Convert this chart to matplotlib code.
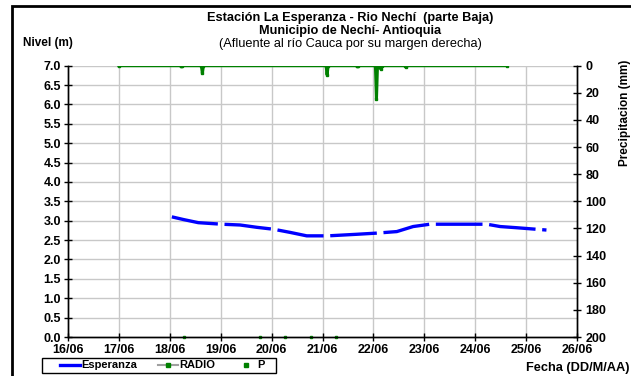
import matplotlib
matplotlib.use("Agg")
import matplotlib.pyplot as plt
from matplotlib.lines import Line2D
from matplotlib.patches import Rectangle

plt.rcParams['font.family'] = ['Liberation Sans', 'DejaVu Sans']

# nivel Esperanza (m), x = dia de junio
esp_dia = [18.04, 18.27, 18.56, 19.02, 19.38, 19.71, 20.04, 20.36, 20.69, 21.11,
           21.67, 22.06, 22.46, 22.78, 23.11, 23.77, 24.23, 24.49, 24.81, 25.20, 25.40]
esp_nivel = [3.10, 3.03, 2.95, 2.91, 2.89, 2.83, 2.78, 2.70, 2.61, 2.61,
             2.65, 2.68, 2.72, 2.85, 2.91, 2.91, 2.91, 2.85, 2.82, 2.78, 2.76]

# precipitacion RADIO (mm)
radio_dia = [17.0, 18.21, 18.22, 18.23, 18.62, 18.64, 18.66, 21.07, 21.09, 21.11,
             21.67, 21.68, 21.69, 22.04, 22.06, 22.08, 22.14, 22.16, 22.63, 22.64,
             22.65, 24.62]
radio_mm = [0, 0, 0.4, 0, 0, 5.6, 0, 0, 6.8, 0,
            0, 0.5, 0, 0, 24.7, 0, 2.2, 0, 0, 0.8,
            0, 0]

# P (m)
p_dia = [18.27, 19.77, 20.27, 20.77, 21.27]
p_val = [0, 0, 0, 0, 0]

dias = list(range(16, 27))
etiquetas = ['%02d/06' % d for d in dias]

fig = plt.figure(figsize=(6.31, 3.76), dpi=100)
ax = fig.add_axes([0.1078, 0.1037, 0.8066, 0.7216])
ax2 = ax.twinx()

for v in [17, 18, 19, 20, 21, 22, 23, 24, 25]:
    ax.axvline(v, color='#c8c8c8', lw=1, zorder=0)
for h in [0.5, 1, 1.5, 2, 2.5, 3, 3.5, 4, 4.5, 5, 5.5, 6, 6.5, 7]:
    ax.axhline(h, color='#c8c8c8', lw=1, zorder=0)

ax.plot(esp_dia, esp_nivel, color='#0000ff', lw=2.4, dashes=(14, 2), zorder=3)
ax.plot(p_dia, p_val, ls='none', marker='s', ms=1.8, color='#008000', clip_on=False, zorder=4)
ax2.plot(radio_dia, radio_mm, color='#008000', lw=2.2, marker='s', ms=2, zorder=3)

ax.set_xlim(16, 26)
ax.set_ylim(0, 7)
ax2.set_ylim(200, 0)
ax.set_xticks(dias)
ax.set_xticklabels(etiquetas)
ax.set_yticks([i * 0.5 for i in range(15)])
ax.set_yticklabels(['%.1f' % (i * 0.5) for i in range(15)])
ax2.set_yticks(range(0, 201, 20))

for a in (ax, ax2):
    a.spines['top'].set_visible(False)
    for s in a.spines.values():
        s.set_linewidth(1)
ax.tick_params(axis='both', direction='inout', length=6, width=1, labelsize=9, pad=2)
ax2.tick_params(axis='y', direction='inout', length=6, width=1, labelsize=9, pad=3)
for lab in ax.get_xticklabels() + ax.get_yticklabels() + ax2.get_yticklabels():
    lab.set_fontweight('bold')

fig.text(0.555, 0.952, 'Estación La Esperanza - Rio Nechí  (parte Baja)', ha='center', va='center',
         fontsize=9.2, fontweight='bold')
fig.text(0.555, 0.918, 'Municipio de Nechí- Antioquia', ha='center', va='center',
         fontsize=9.2, fontweight='bold')
fig.text(0.555, 0.882, '(Afluente al río Cauca por su margen derecha)', ha='center', va='center',
         fontsize=9.2)
fig.text(0.037, 0.886, 'Nivel (m)', ha='left', va='center', fontsize=8.5, fontweight='bold')
fig.text(0.99, 0.70, 'Precipitacion (mm)', ha='center', va='center', rotation=90,
         fontsize=8.5, fontweight='bold')
fig.text(0.998, 0.022, 'Fecha (DD/M/AA)', ha='right', va='center', fontsize=9.2, fontweight='bold')

handles = [Line2D([], [], color='#0000ff', lw=2.4),
           Line2D([], [], color='#a0a0a0', lw=1.5, marker='s', ms=2.5,
                  markerfacecolor='#008000', markeredgecolor='#008000'),
           Line2D([], [], ls='none', marker='s', ms=2.5, color='#008000')]
leg = fig.legend(handles, ['Esperanza', 'RADIO', 'P'], ncol=3, loc='center left',
                 bbox_to_anchor=(60 / 631, 1 - 365.5 / 376), fontsize=8, frameon=False,
                 borderpad=0, handlelength=1.8, handletextpad=0.1, columnspacing=1.9,
                 borderaxespad=0)
for t in leg.get_texts():
    t.set_fontweight('bold')

# marco de la leyenda
fig.patches.append(Rectangle((42 / 631, 1 - 373 / 376), 234 / 631, 15 / 376,
                             transform=fig.transFigure, fill=False, edgecolor='black', lw=1))
# marco exterior
fig.patches.append(Rectangle((11.5 / 631, -0.1), 1.2, 1.1 - 6 / 376, transform=fig.transFigure,
                             fill=False, edgecolor='black', lw=2))

fig.savefig('out.png', dpi=100)
